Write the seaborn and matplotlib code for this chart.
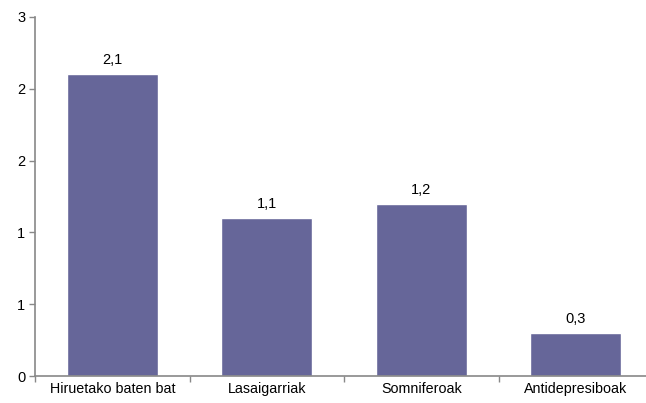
import matplotlib
matplotlib.use("Agg")
import matplotlib.pyplot as plt
import seaborn as sns
import pandas as pd

categories = ["Hiruetako baten bat", "Lasaigarriak", "Somniferoak", "Antidepresiboak"]
values = [2.1, 1.1, 1.2, 0.3]
value_labels = ["2,1", "1,1", "1,2", "0,3"]
y_ticks = [0, 0.5, 1.0, 1.5, 2.0, 2.5]
y_tick_labels = ["0", "1", "1", "2", "2", "3"]

sns.set_theme(style="white")
plt.rcParams['font.family'] = ['Liberation Sans', 'DejaVu Sans']

df = pd.DataFrame({"cat": categories, "val": values})

fig = plt.figure(figsize=(6.46, 4.03), dpi=100)
ax = fig.add_axes([35/646, 1-376/403, 618/646, (376-17)/403])
sns.barplot(data=df, x="cat", y="val", color="#666699", saturation=1, width=0.59, ax=ax)

ax.set_ylim(0, 2.5)
ax.set_xlim(-0.5, 3.5)
ax.set_yticks(y_ticks)
ax.set_yticklabels(y_tick_labels, fontsize=10.5, color="black")
ax.set_xlabel("")
ax.set_ylabel("")
ax.set_xticks(range(len(categories)))
ax.set_xticklabels(categories, fontsize=10.3, color="black")
ax.tick_params(axis="x", length=0, pad=4)
ax.tick_params(axis="y", length=4, width=1, color="#888888", left=True, direction="out", pad=3)

# category boundary ticks on x axis
ax.set_xticks([-0.5, 0.5, 1.5, 2.5], minor=True)
ax.tick_params(axis="x", which="minor", length=4, width=1, color="#888888", bottom=True, direction="out")

for s in ["top", "right"]:
    ax.spines[s].set_visible(False)
for s in ["left", "bottom"]:
    ax.spines[s].set_color("#888888")
    ax.spines[s].set_linewidth(1.2)

for i, (v, lab) in enumerate(zip(values, value_labels)):
    ax.annotate(lab, (i, v), xytext=(0, 5), textcoords="offset points",
                ha="center", va="bottom", fontsize=10.5, color="black")

fig.savefig("out.png", dpi=100)
